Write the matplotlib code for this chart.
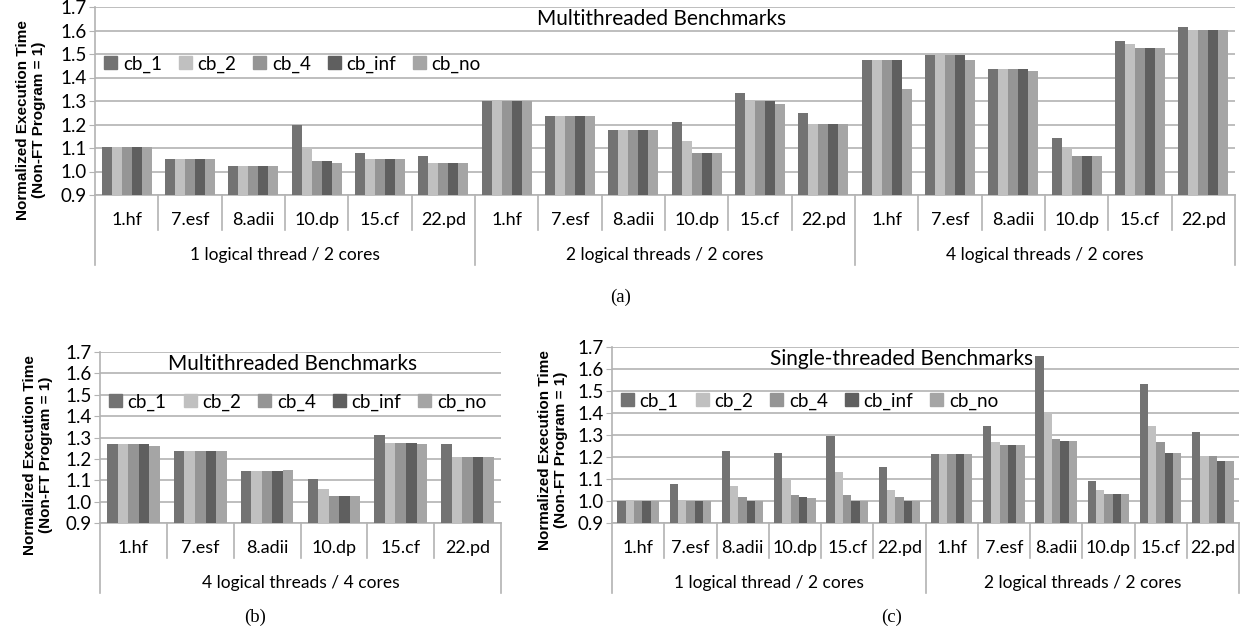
import numpy as np
import matplotlib
matplotlib.use("Agg")
import matplotlib.pyplot as plt
from matplotlib.patches import Patch

plt.rcParams['font.family'] = ['Lato', 'DejaVu Sans']

series = ["cb_1", "cb_2", "cb_4", "cb_inf", "cb_no"]
colors = ['#737373', '#c0c0c0', '#959595', '#5f5f5f', '#a5a5a5']
benchmarks = ["1.hf", "7.esf", "8.adii", "10.dp", "15.cf", "22.pd"]

# (a) multithreaded, three thread configurations on 2 cores
a_groups = ["1 logical thread / 2 cores", "2 logical threads / 2 cores", "4 logical threads / 2 cores"]
a_cb1 = [1.105, 1.053, 1.025, 1.197, 1.079, 1.064, 1.298, 1.236, 1.176, 1.210, 1.336, 1.250, 1.476, 1.496, 1.435, 1.144, 1.554, 1.613]
a_cb2 = [1.105, 1.053, 1.025, 1.104, 1.053, 1.037, 1.298, 1.236, 1.176, 1.130, 1.298, 1.203, 1.476, 1.496, 1.435, 1.097, 1.541, 1.600]
a_cb4 = [1.105, 1.053, 1.025, 1.043, 1.053, 1.037, 1.298, 1.236, 1.176, 1.077, 1.298, 1.203, 1.476, 1.496, 1.435, 1.064, 1.527, 1.600]
a_cbinf = [1.105, 1.053, 1.025, 1.043, 1.053, 1.037, 1.298, 1.236, 1.176, 1.077, 1.298, 1.203, 1.476, 1.496, 1.435, 1.064, 1.527, 1.600]
a_cbno = [1.105, 1.053, 1.025, 1.037, 1.053, 1.037, 1.298, 1.236, 1.176, 1.077, 1.289, 1.203, 1.350, 1.475, 1.428, 1.064, 1.527, 1.600]

# (b) multithreaded, 4 threads / 4 cores
b_groups = ["4 logical threads / 4 cores"]
b_cb1 = [1.270, 1.235, 1.141, 1.107, 1.311, 1.270]
b_cb2 = [1.270, 1.235, 1.141, 1.059, 1.276, 1.208]
b_cb4 = [1.270, 1.235, 1.141, 1.025, 1.276, 1.208]
b_cbinf = [1.270, 1.235, 1.141, 1.025, 1.276, 1.208]
b_cbno = [1.262, 1.235, 1.147, 1.025, 1.270, 1.208]

# (c) single-threaded
c_groups = ["1 logical thread / 2 cores", "2 logical threads / 2 cores"]
c_cb1 = [1.000, 1.079, 1.227, 1.220, 1.294, 1.153, 1.214, 1.341, 1.658, 1.092, 1.530, 1.315]
c_cb2 = [1.000, 1.000, 1.067, 1.097, 1.133, 1.052, 1.214, 1.268, 1.405, 1.052, 1.341, 1.206]
c_cb4 = [1.000, 1.000, 1.018, 1.026, 1.026, 1.018, 1.214, 1.253, 1.280, 1.032, 1.267, 1.206]
c_cbinf = [1.000, 1.000, 1.000, 1.018, 1.000, 1.000, 1.214, 1.253, 1.274, 1.032, 1.220, 1.180]
c_cbno = [1.000, 1.000, 1.000, 1.012, 1.000, 1.000, 1.214, 1.253, 1.274, 1.032, 1.220, 1.180]

W, H = 1242, 633
fig = plt.figure(figsize=(W / 100, H / 100), dpi=100)
grid_c = '#b3b3b3'


def px_axes(l, t, r, b):
    return fig.add_axes([l / W, 1 - b / H, (r - l) / W, (b - t) / H])


def panel(box, data, groups, title, title_x, leg_y):
    ax = px_axes(*box)
    h_px = box[3] - box[1]
    n = len(data[0])
    bw = 0.158
    x = np.arange(n) + 0.5
    for k, vals in enumerate(data):
        ax.bar(x + (k - 2) * bw, np.array(vals) - 0.9, bw, bottom=0.9,
               color=colors[k], linewidth=0, zorder=3)
    ax.set_xlim(0, n)
    ax.set_ylim(0.9, 1.7)
    ticks = np.arange(0.9, 1.71, 0.1)
    ax.set_yticks(ticks)
    ax.set_yticklabels(['%.1f' % v for v in ticks], fontsize=13.5)
    ax.grid(axis='y', color=grid_c, linewidth=1.2, zorder=0)
    for s in ['top', 'right']:
        ax.spines[s].set_visible(False)
    for s in ['left', 'bottom']:
        ax.spines[s].set_color(grid_c)
        ax.spines[s].set_linewidth(1.2)
    ax.tick_params(axis='y', length=4, color=grid_c, pad=2)
    ax.set_xticks([])
    # category axis (Excel style multi-level)
    tr = ax.get_xaxis_transform()
    ng = len(groups)
    per = n // ng
    for i in range(n + 1):
        depth = 70 if i % per == 0 else 35
        ax.plot([i, i], [0, -depth / h_px], transform=tr, color=grid_c,
                linewidth=1.2, clip_on=False)
    for i in range(n):
        ax.text(i + 0.5, -25 / h_px, benchmarks[i % per], transform=tr,
                ha='center', va='center', fontsize=13)
    for g in range(ng):
        ax.text(g * per + per / 2, -60 / h_px, groups[g], transform=tr,
                ha='center', va='center', fontsize=12.5)
    ax.text(title_x, 1 - 12 / h_px, title, transform=ax.transAxes,
            ha='center', va='center', fontsize=15)
    handles = [Patch(color=c) for c in colors]
    ax.legend(handles, series, loc='center left', ncol=5, frameon=False,
              bbox_to_anchor=(9 / (box[2] - box[0]), 1 - leg_y / h_px),
              fontsize=13.5, handlelength=0.7, handleheight=0.7,
              handletextpad=0.3, columnspacing=0.9, borderpad=0, borderaxespad=0)
    return ax


panel((95, 7, 1235, 195), [a_cb1, a_cb2, a_cb4, a_cbinf, a_cbno], a_groups,
      "Multithreaded Benchmarks", 0.497, 57)
panel((100, 352, 501, 523), [b_cb1, b_cb2, b_cb4, b_cbinf, b_cbno], b_groups,
      "Multithreaded Benchmarks", 0.48, 50)
panel((612, 347, 1239, 523), [c_cb1, c_cb2, c_cb4, c_cbinf, c_cbno], c_groups,
      "Single-threaded Benchmarks", 0.4625, 54)

ylab = "Normalized Execution Time\n(Non-FT Program = 1)"
for xp, yp in [(31, 120), (38, 455), (553, 450)]:
    fig.text(xp / W, 1 - yp / H, ylab, rotation=90, ha='center', va='center',
             fontsize=11, fontweight='bold', family='Liberation Sans',
             multialignment='center', linespacing=1.15)

for lab, xp, yp in [("(a)", 621, 297), ("(b)", 255, 617), ("(c)", 892, 617)]:
    fig.text(xp / W, 1 - yp / H, lab, ha='center', va='center', fontsize=13.5,
             family='Liberation Serif')

fig.savefig("out.png", dpi=100)
